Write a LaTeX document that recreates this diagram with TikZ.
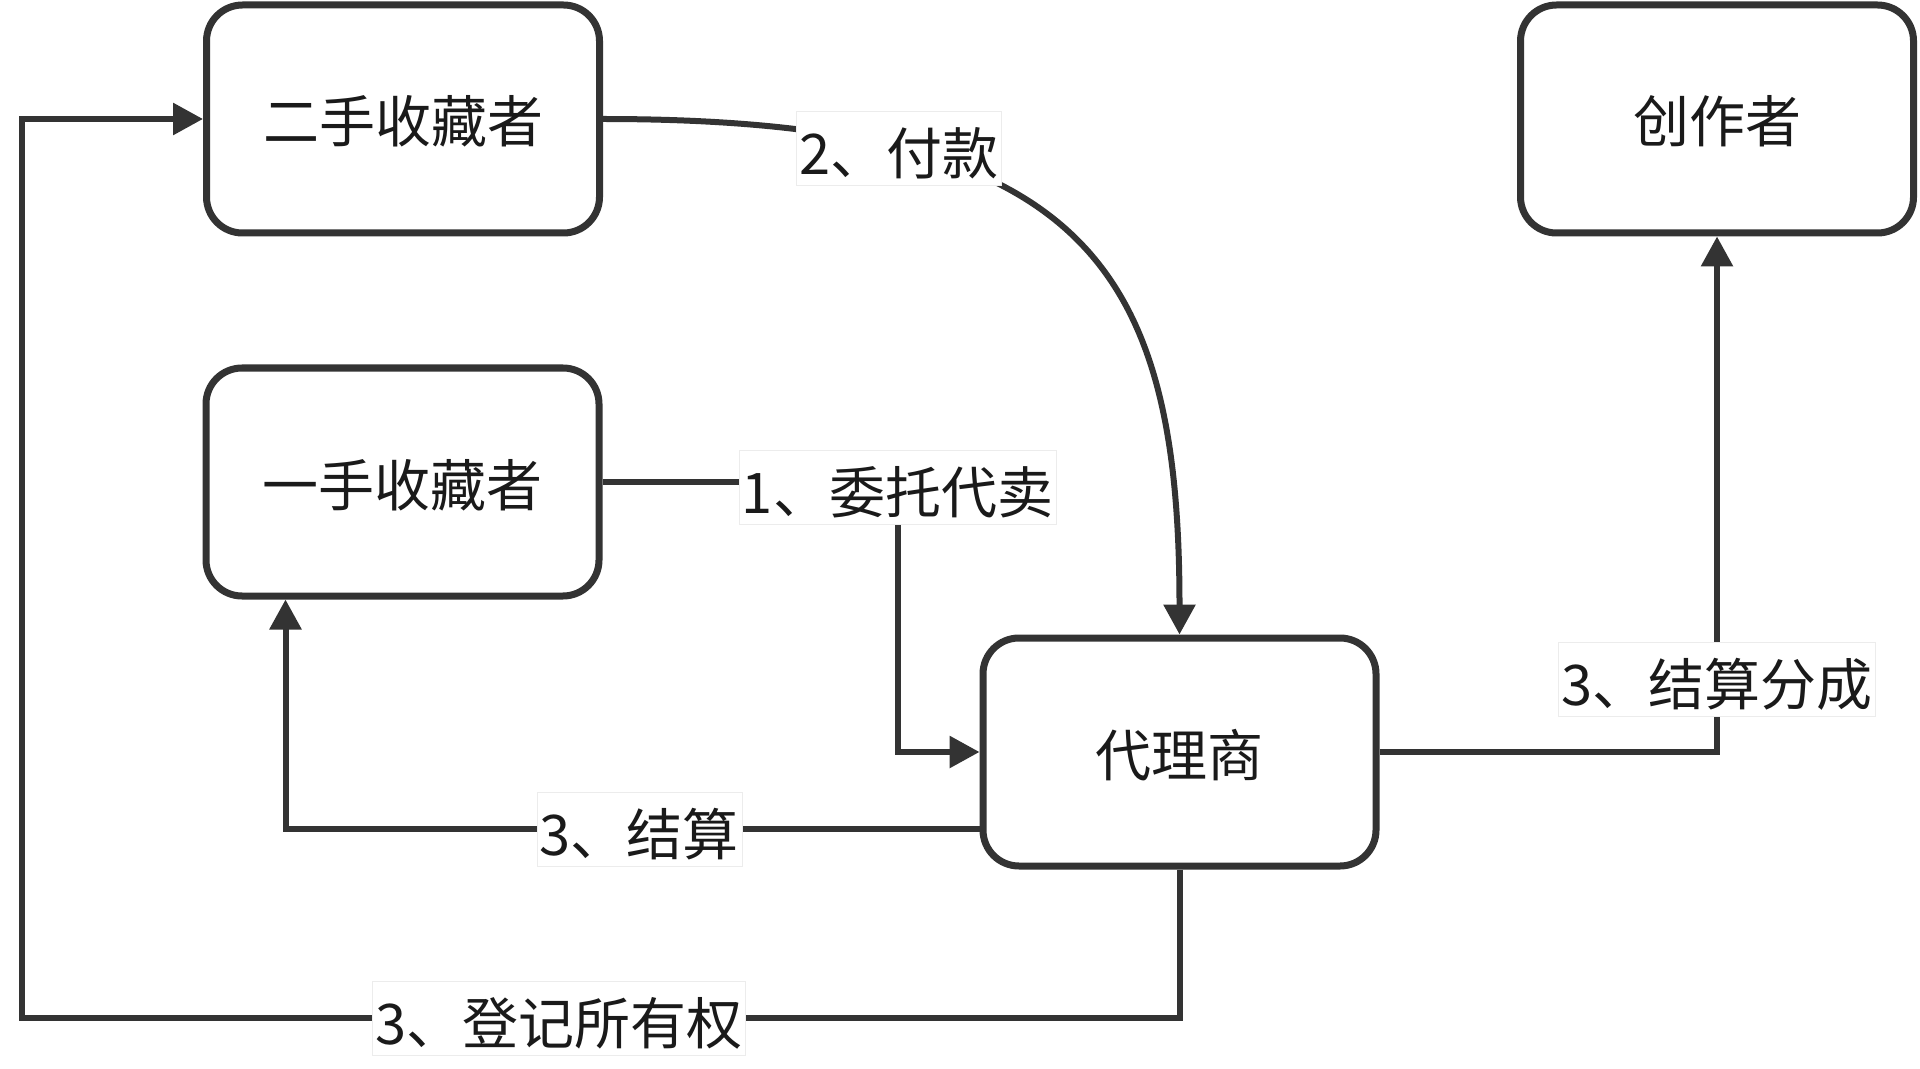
\documentclass[tikz,border=0pt]{standalone}
\usepackage{fontspec}
\setmainfont{Noto Sans CJK SC}
\usepackage{xcolor}
\usetikzlibrary{arrows.meta, positioning, calc}
\definecolor{FlowGray}{RGB}{51, 51, 51}
\definecolor{FlowInk}{RGB}{26, 26, 26}
\definecolor{FlowEdge}{RGB}{236, 236, 236}

\tikzset{
  party/.style={rounded corners=18pt, draw=FlowGray, line width=3.5pt, fill=white,
    minimum width=196.5pt, minimum height=114pt, align=center, text=FlowInk,
    text height=26pt, text depth=2pt},
  flow/.style={draw=FlowGray, line width=3pt},
  flowarrow/.style={flow, -{Triangle[length=15pt, width=15.5pt]}},
  tag/.style={fill=white, draw=FlowEdge, line width=0.4pt, text=FlowInk,
    inner xsep=1.5pt, inner ysep=4.5pt, text height=27pt, text depth=1pt}
}

\begin{document}
\begin{tikzpicture}[x=0.5pt, y=-0.5pt, font=\fontsize{28}{34}\selectfont]
  \useasboundingbox[fill=white] (0,0) rectangle (1920,1069);

  % parties
  \node[party] (ershou) at (403,119) {二手收藏者};
  \node[party] (creator) at (1717,119) {创作者};
  \node[party] (yishou) at (402.5,482) {一手收藏者};
  \node[party] (agent) at (1179.5,752) {代理商};

  % turning points
  \coordinate (jog) at ($(agent.west)+(-82,0)$);
  \coordinate (loopcorner) at (22,1018);

  % flows
  \draw[flowarrow] (ershou.east) .. controls +(477,0) and +(0,-374) ..
    node[tag, pos=0.255] (paytag) {2、付款} (agent.north);
  \draw[flowarrow] (yishou.east) -| node[tag, yshift=-2.5pt] (consigntag) {1、委托代卖} (jog) -- (agent.west);
  \draw[flowarrow] ($(agent.west)+(0,77)$) -| node[tag, pos=0.245] (settletag) {3、结算}
    ($(yishou.south)+(-117,0)$);
  \draw[flowarrow] (agent.south) |- node[tag, pos=0.768] (ownertag) {3、登记所有权} (loopcorner)
    |- (ershou.west);
  \draw[flowarrow] (agent.east) -| node[tag, pos=0.57] (sharetag) {3、结算分成} (creator.south);
\end{tikzpicture}
\end{document}
